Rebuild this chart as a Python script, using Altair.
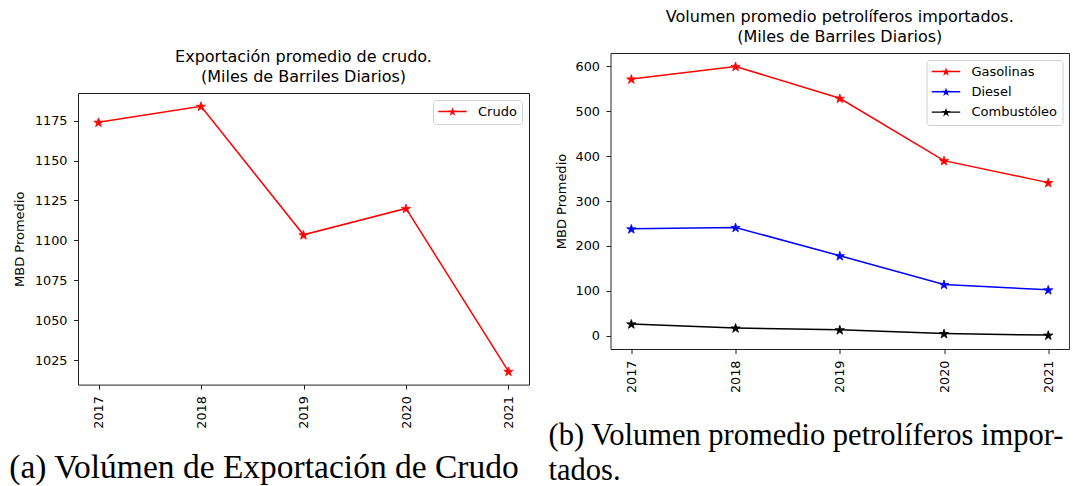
import altair as alt
import pandas as pd

# ---------------- data ----------------
years = [2017, 2018, 2019, 2020, 2021]
crudo = [1174, 1184, 1103.5, 1120, 1018]
gasolinas = [572, 600, 529, 390, 341]
diesel = [238, 241, 178, 114, 102]
combustoleo = [26, 17, 13, 4.5, 1]

crudo_name = ["Crudo"]
crudo_color = ["red"]
series_names = ["Gasolinas", "Diesel", "Combustóleo"]
series_colors = ["red", "blue", "black"]

crudo_ticks = [1025, 1050, 1075, 1100, 1125, 1150, 1175]
import_ticks = [0, 100, 200, 300, 400, 500, 600]

title_a = ["Exportación promedio de crudo.", "(Miles de Barriles Diarios)"]
title_b = ["Volumen promedio petrolíferos importados.", "(Miles de Barriles Diarios)"]
y_title = "MBD Promedio"
caption_a = ["(a) Volúmen de Exportación de Crudo"]
caption_b1 = ["(b) Volumen promedio petrolíferos impor-"]
caption_b2 = ["tados."]

# ---------------- styling ----------------
STAR = ("M0,-0.9L0.2245,-0.214L0.951,-0.214L0.363,0.213L0.588,0.904L0,0.477"
        "L-0.588,0.904L-0.363,0.213L-0.951,-0.214L-0.2245,-0.214Z")
# legend glyph: a short line (thin filled bar) with a star in the middle
LEG_SYMBOL = "M-3,-0.15L3,-0.15L3,0.15L-3,0.15Z" + STAR
FONT = "DejaVu Sans"
SERIF = "Liberation Serif"


def make_legend():
    return alt.Legend(
        title=None, orient="top-right", offset=7,
        symbolType=LEG_SYMBOL, symbolSize=90, symbolStrokeWidth=0,
        symbolOffset=8, labelOffset=19,
        labelFont=FONT, labelFontSize=13, labelColor="black",
        padding=5, rowPadding=6.3, strokeColor="#d0d0d0", fillColor="white",
        cornerRadius=3,
    )


def x_enc():
    return alt.X(
        "year:Q",
        scale=alt.Scale(domain=[2016.8, 2021.2], nice=False, zero=False),
        axis=alt.Axis(values=years, format="d", labelAngle=270, title=None,
                      tickSize=4.5, labelPadding=6.5),
    )


def y_enc(domain, ticks, tpad):
    return alt.Y(
        "value:Q",
        scale=alt.Scale(domain=domain, nice=False, zero=False),
        axis=alt.Axis(values=ticks, format="d", title=y_title, tickSize=4.5,
                      labelPadding=6.5, titlePadding=tpad),
    )


def series_layers(df, names, colors, domain, ticks, tpad):
    leg = make_legend()
    color = alt.Color("serie:N", scale=alt.Scale(domain=names, range=colors),
                      sort=names, legend=leg)
    fill = alt.Fill("serie:N", scale=alt.Scale(domain=names, range=colors),
                    sort=names, legend=leg)
    base = alt.Chart(df).encode(x=x_enc(), y=y_enc(domain, ticks, tpad))
    line = base.mark_line(strokeWidth=1.5).encode(color=color)
    pts = base.mark_point(shape=STAR, size=95, filled=False, opacity=1,
                          strokeWidth=0.8).encode(color=color, fill=fill)
    return line, pts


def spacer(h):
    return alt.Chart(pd.DataFrame({"v": [0]})).mark_rule(
        opacity=0, strokeWidth=0.01
    ).encode(
        x=alt.value(0), y=alt.value(0), y2=alt.value(h)
    ).properties(width=1, height=h, view=alt.ViewBackground(stroke="transparent"))


# ---------------- panel (a) ----------------
df_a = pd.DataFrame({"year": years, "value": crudo, "serie": crudo_name * len(years)})
line_a, pts_a = series_layers(df_a, crudo_name, crudo_color, [1009.7, 1192.3], crudo_ticks, 8)

cap_a = alt.Chart(pd.DataFrame({"t": caption_a})).mark_text(
    font=SERIF, fontSize=33.5, color="black", align="center", baseline="alphabetic",
).encode(text="t:N", x=alt.value(186), y=alt.value(385))

panel_a = alt.layer(line_a, pts_a, cap_a).properties(
    width=451, height=291.6,
    title=alt.TitleParams(title_a),
)

# ---------------- panel (b) ----------------
rows = []
for name, vals in zip(series_names, [gasolinas, diesel, combustoleo]):
    for yr, v in zip(years, vals):
        rows.append({"year": yr, "value": v, "serie": name})
df_b = pd.DataFrame(rows)
line_b, pts_b = series_layers(df_b, series_names, series_colors, [-29.95, 629.95], import_ticks, 7)

cap_b1 = alt.Chart(pd.DataFrame({"t": caption_b1})).mark_text(
    font=SERIF, fontSize=30.5, color="black", align="left", baseline="alphabetic",
).encode(text="t:N", x=alt.value(-62), y=alt.value(392))

cap_b2 = alt.Chart(pd.DataFrame({"t": caption_b2})).mark_text(
    font=SERIF, fontSize=30.5, color="black", align="left", baseline="alphabetic",
).encode(text="t:N", x=alt.value(-62), y=alt.value(427))

panel_b = alt.layer(line_b, pts_b, cap_b1, cap_b2).properties(
    width=458.6, height=296,
    title=alt.TitleParams(title_b),
)

col_a = alt.vconcat(spacer(40.5), panel_a, spacing=0).resolve_scale(
    color="independent", fill="independent")
col_b = alt.vconcat(spacer(0.5), panel_b, spacing=0).resolve_scale(
    color="independent", fill="independent")

chart = alt.hconcat(col_a, col_b, spacing=17.5).resolve_scale(
    color="independent", fill="independent", x="independent", y="independent"
).properties(
    padding={"left": 0, "top": -2, "right": 0, "bottom": 0},
).configure_view(
    stroke="#222222", strokeWidth=1,
).configure_axis(
    domain=False, grid=False, tickColor="#222222", tickWidth=1,
    labelColor="black", labelFont=FONT, labelFontSize=12.8,
    titleFont=FONT, titleFontSize=13, titleFontWeight="normal", titleColor="black",
).configure_title(
    font=FONT, fontSize=16, fontWeight="normal", color="black",
    anchor="middle", lineHeight=20, offset=8.5,
)

chart.save("out.html", embed_options={"renderer": "svg", "actions": False})
